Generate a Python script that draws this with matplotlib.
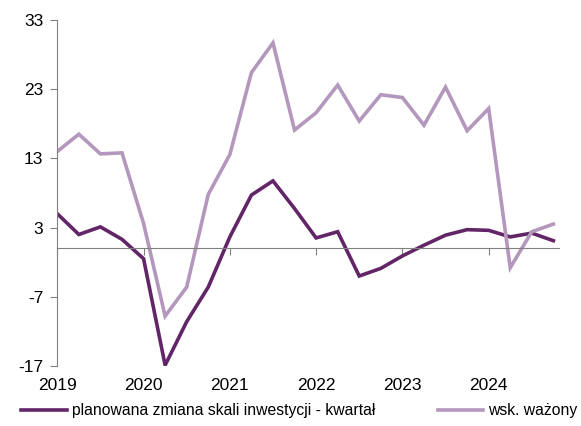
import matplotlib.pyplot as plt

plt.rcParams['font.family'] = ['Liberation Sans', 'DejaVu Sans']
plt.rcParams['axes.unicode_minus'] = False

# Quarterly data 2019Q1 - 2024Q4
years = [2019, 2020, 2021, 2022, 2023, 2024]
planowana = [5.0, 2.0, 3.1, 1.3, -1.5, -16.9, -10.6, -5.6,
             1.65, 7.7, 9.75, 5.75, 1.5, 2.4, -4.0, -2.9,
             -1.1, 0.45, 1.9, 2.7, 2.6, 1.65, 2.2, 1.1]
wsk_wazony = [14.0, 16.5, 13.65, 13.8, 3.6, -9.8, -5.6, 7.8,
              13.55, 25.4, 29.7, 17.1, 19.6, 23.6, 18.4, 22.2,
              21.8, 17.8, 23.3, 17.0, 20.2, -2.8, 2.4, 3.5]
yticks = [-17, -7, 3, 13, 23, 33]

dark = '#622567'
light = '#b497bc'
grey = '#808080'

fig = plt.figure(figsize=(5.81, 4.26), dpi=100)
ax = fig.add_axes([0.0986, 0.141, 0.8635, 0.812])

x = list(range(len(planowana)))
ax.plot(x, planowana, color=dark, lw=2.6, label='planowana zmiana skali inwestycji - kwartał',
        solid_joinstyle='miter')
ax.plot(x, wsk_wazony, color=light, lw=2.6, label='wsk. ważony', solid_joinstyle='miter')

ax.set_xlim(0, 23.26)
ax.set_ylim(-17, 33)
ax.set_yticks(yticks)
ax.tick_params(axis='y', direction='out', length=5, color=grey, labelsize=12.5, pad=5)

for s in ['top', 'right']:
    ax.spines[s].set_visible(False)
ax.spines['left'].set_color(grey)
ax.spines['bottom'].set_color(grey)
ax.spines['bottom'].set_position(('data', 0))

year_pos = [(y - 2019) * 4 for y in years]
ax.set_xticks(year_pos)
ax.tick_params(axis='x', direction='out', length=5, color=grey, labelbottom=False)

sec = ax.secondary_xaxis('bottom')
sec.set_xticks(year_pos)
sec.set_xticklabels([str(y) for y in years])
sec.tick_params(length=0, labelsize=12.5, pad=9)
sec.spines['bottom'].set_visible(False)

fig.legend(loc='lower center', bbox_to_anchor=(0.515, -0.015), ncol=2, frameon=False,
           fontsize=11.3, handlelength=2.9, handletextpad=0.3, columnspacing=4.0)

fig.savefig('out.png', dpi=100)
